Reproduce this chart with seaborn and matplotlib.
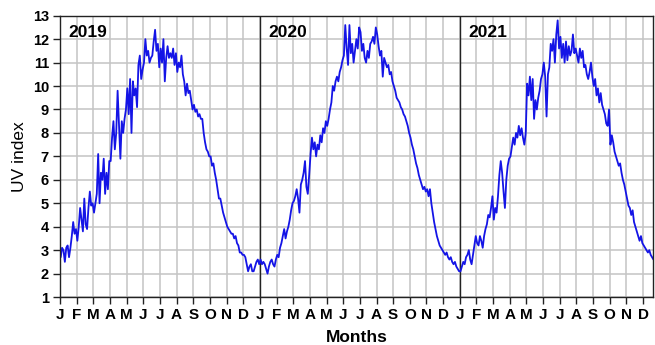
import numpy as np
import pandas as pd
import matplotlib
matplotlib.use("Agg")
import matplotlib.pyplot as plt
import seaborn as sns

# ~12 readings per month (Jan..Dec)
uv_2019 = [
    2.7, 3.1, 3.0, 2.5, 3.1, 3.2, 2.7, 3.1, 3.6, 4.2, 3.7, 3.9,
    3.4, 4.0, 4.8, 4.3, 3.8, 5.2, 4.1, 3.9, 4.8, 5.5, 4.9, 5.0,
    4.6, 5.0, 5.4, 7.1, 5.0, 6.3, 6.0, 6.9, 5.4, 6.3, 5.6, 6.8,
    6.8, 7.8, 8.5, 7.3, 8.0, 9.8, 8.3, 6.9, 8.5, 8.0, 8.6, 9.0,
    9.9, 8.8, 10.3, 8.0, 10.2, 9.6, 9.9, 9.1, 10.9, 11.3, 10.3, 10.7,
    11.0, 12.0, 11.3, 11.5, 11.0, 11.2, 11.3, 11.9, 12.4, 11.5, 11.8, 10.8,
    11.6, 11.0, 12.0, 10.2, 11.2, 11.7, 11.2, 11.4, 11.2, 11.6, 10.9, 11.4,
    10.6, 11.0, 10.8, 11.3, 10.5, 10.2, 9.6, 10.1, 9.7, 9.8, 9.4, 9.0,
    9.2, 8.9, 9.0, 8.7, 8.8, 8.6, 8.6, 8.0, 7.6, 7.3, 7.2, 7.0,
    7.0, 6.6, 6.7, 6.3, 6.0, 5.6, 5.2, 5.2, 4.9, 4.6, 4.4, 4.2,
    4.0, 3.9, 3.8, 3.7, 3.7, 3.5, 3.6, 3.3, 3.2, 2.9, 2.9, 2.8,
    2.8, 2.7, 2.4, 2.1, 2.3, 2.4, 2.1, 2.1, 2.3, 2.5, 2.6, 2.4,
]
uv_2020 = [
    2.6, 2.4, 2.5, 2.4, 2.2, 2.0, 2.3, 2.5, 2.6, 2.4, 2.3, 2.6,
    2.8, 2.7, 3.1, 3.3, 3.6, 3.9, 3.5, 3.8, 4.0, 4.3, 4.7, 5.0,
    5.1, 5.3, 5.6, 5.2, 4.6, 5.8, 6.0, 6.3, 6.8, 5.7, 5.4, 6.2,
    7.1, 7.8, 7.3, 7.6, 7.0, 7.5, 7.3, 7.9, 7.6, 8.2, 8.0, 8.5,
    8.3, 8.6, 9.0, 9.3, 10.0, 9.8, 10.2, 10.4, 10.2, 10.6, 10.8, 11.1,
    11.3, 12.6, 11.6, 10.9, 12.6, 11.4, 11.8, 11.0, 11.5, 12.0, 11.6, 12.5,
    12.3, 11.5, 11.8, 11.2, 11.0, 11.5, 11.2, 11.8, 11.9, 12.1, 11.8, 12.5,
    12.2, 11.7, 11.3, 11.5, 10.4, 11.2, 11.0, 10.8, 10.9, 10.5, 10.6, 10.2,
    10.0, 9.8, 9.5, 9.4, 9.3, 9.1, 9.0, 8.8, 8.7, 8.5, 8.3, 8.0,
    7.8, 7.5, 7.3, 7.0, 6.7, 6.5, 6.2, 6.0, 5.8, 5.6, 5.7, 5.5,
    5.6, 5.3, 5.6, 5.0, 4.6, 4.2, 3.9, 3.6, 3.4, 3.2, 3.1, 3.0,
    2.9, 2.8, 2.9, 2.7, 2.6, 2.7, 2.5, 2.4, 2.5, 2.3, 2.2, 2.1,
]
uv_2021 = [
    2.1, 2.3, 2.5, 2.4, 2.7, 2.8, 3.0, 2.6, 2.4, 2.8, 3.2, 3.6,
    3.3, 3.2, 3.6, 3.4, 3.1, 3.6, 3.9, 4.1, 4.5, 4.4, 4.8, 5.3,
    4.3, 4.8, 4.6, 5.3, 6.2, 6.8, 6.3, 5.5, 4.8, 6.0, 6.6, 6.9,
    7.0, 7.4, 7.8, 7.5, 8.0, 7.8, 8.3, 7.9, 8.2, 7.8, 7.5, 8.0,
    10.1, 9.6, 10.4, 9.4, 10.3, 8.6, 9.4, 9.0, 9.5, 9.8, 10.3, 10.5,
    11.0, 10.4, 8.7, 10.5, 10.8, 11.8, 11.5, 12.0, 11.0, 12.2, 12.8, 11.6,
    12.1, 11.2, 11.8, 11.0, 11.9, 11.1, 11.7, 11.3, 11.5, 12.2, 11.4, 11.6,
    11.3, 11.0, 11.6, 11.2, 11.5, 10.8, 10.9, 10.5, 10.3, 10.6, 11.0, 10.4,
    10.0, 10.3, 9.6, 9.9, 9.3, 9.7, 9.2, 9.0, 8.8, 8.4, 8.3, 9.0,
    7.5, 7.9, 7.6, 7.2, 7.0, 6.8, 6.6, 6.7, 6.3, 6.0, 5.8, 5.5,
    5.2, 4.9, 4.8, 4.5, 4.7, 4.2, 4.0, 3.8, 3.6, 3.4, 3.6, 3.3,
    3.2, 3.1, 3.0, 2.9, 3.0, 2.8, 2.7, 2.6, 2.8,
]
years = ["2019", "2020", "2021"]
month_letters = ["J", "F", "M", "A", "M", "J", "J", "A", "S", "O", "N", "D"]
samples_per_month = 12

series = [uv_2019, uv_2020, uv_2021]
frames = []
for k, vals in enumerate(series):
    t = 12 * k + (np.arange(len(vals)) + 0.5) / samples_per_month
    frames.append(pd.DataFrame({"month": t, "uv": vals}))
df = pd.concat(frames, ignore_index=True)

sns.set_style("white")
plt.rcParams["font.family"] = ["Liberation Sans", "DejaVu Sans"]
plt.rcParams["text.color"] = "black"
plt.rcParams["axes.labelcolor"] = "black"
plt.rcParams["xtick.color"] = "black"
plt.rcParams["ytick.color"] = "black"

fig = plt.figure(figsize=(6.55, 3.45), dpi=100)
ax = fig.add_axes([0.0916, 0.139, 0.9054, 0.8155])

sns.lineplot(data=df, x="month", y="uv", ax=ax, color="#1414e6", linewidth=1.3)

n_months = 12 * len(series)
ax.set_xlim(0, 35.6)
ax.set_ylim(1, 13)
ax.set_xticks(np.arange(n_months))
ax.set_xticklabels(month_letters * len(series), fontsize=11, fontweight="bold")
ax.set_yticks(np.arange(1, 14))
ax.set_yticklabels([str(v) for v in range(1, 14)], fontsize=10.5, fontweight="bold")
ax.grid(True, color="#c4c4c4", linewidth=1.1)
ax.set_axisbelow(True)
for k in range(1, len(series)):
    ax.axvline(12 * k, color="#222222", linewidth=1.0, zorder=1.5)
for k, yr in enumerate(years):
    ax.text(12 * k + 0.5, 12.3, yr, fontsize=12.5, fontweight="bold", va="center", ha="left",
            color="black")

ax.tick_params(axis="both", which="major", direction="out", length=5, width=1, color="#222222",
               labelcolor="black", bottom=True, left=True, pad=3)
for s in ax.spines.values():
    s.set_color("#222222")
    s.set_linewidth(1.0)

ax.set_xlabel("Months", fontsize=12.5, fontweight="bold", labelpad=6, color="black")
ax.set_ylabel("UV index", fontsize=12.5, labelpad=4, color="black")

fig.savefig("out.png", dpi=100)
